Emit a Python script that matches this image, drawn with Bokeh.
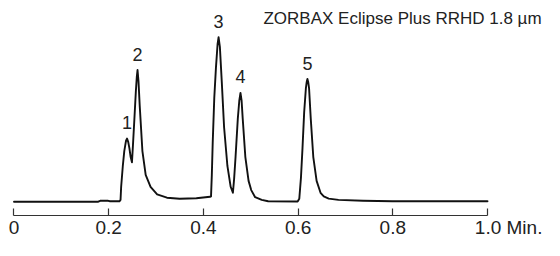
from bokeh.plotting import figure
from bokeh.models import Range1d, FixedTicker, Label, ColumnDataSource
from bokeh.core.properties import value
from bokeh.embed import file_html
from bokeh.resources import INLINE

# ---- data (time in min, signal in arbitrary units) ----
trace_time = [0.000, 0.178, 0.182, 0.199, 0.203, 0.2226, 0.2250, 0.2263, 0.2298, 0.2329,
              0.2366, 0.2387, 0.2412, 0.2437, 0.2464, 0.2491, 0.2511, 0.2540, 0.2573, 0.2594,
              0.2609, 0.2629, 0.2656, 0.2712, 0.2781, 0.2884, 0.3023, 0.3230, 0.3499, 0.3851,
              0.4141, 0.4161, 0.4178, 0.4197, 0.4230, 0.4265, 0.4300, 0.4321, 0.4348, 0.4389,
              0.4437, 0.4507, 0.4576, 0.4623, 0.4648, 0.4679, 0.4727, 0.4758, 0.4783, 0.4807,
              0.4830, 0.4886, 0.4954, 0.5010, 0.5093, 0.5232, 0.5368, 0.5990, 0.6025, 0.6060,
              0.6093, 0.6128, 0.6164, 0.6182, 0.6197, 0.6213, 0.6232, 0.6267, 0.6321, 0.6391,
              0.6474, 0.6542, 0.6646, 0.6853, 0.7371, 0.7992, 1.000]
trace_signal = [0.0, 0.0, 1.0, 1.0, 0.5, 0.5, 2.0, 16.7, 40.0, 56.7,
                68.3, 70.7, 67.0, 60.0, 50.0, 44.0, 62.0, 90.0, 123.0, 140.0,
                147.3, 135.0, 106.7, 56.7, 30.0, 16.7, 8.3, 4.5, 3.3, 3.8,
                5.5, 6.0, 30.0, 66.7, 116.7, 150.0, 176.7, 184.0, 173.3, 133.3,
                83.3, 40.0, 16.7, 10.0, 25.0, 50.0, 93.3, 113.0, 121.7, 113.0,
                93.3, 50.0, 23.3, 13.0, 5.0, 2.0, 0.5, 0.3, 3.3, 26.7,
                60.0, 100.0, 126.7, 134.0, 137.3, 134.0, 126.7, 93.3, 50.0, 23.3,
                10.0, 6.0, 3.5, 2.0, 1.0, 0.5, 0.5]

peak_names = ["1", "2", "3", "4", "5"]
peak_times = [0.2387, 0.2609, 0.4321, 0.4783, 0.6197]
peak_heights = [70.7, 147.3, 184.0, 121.7, 137.3]

tick_values = [0, 0.2, 0.4, 0.6, 0.8, 1.0]
tick_labels = ["0", "0.2", "0.4", "0.6", "0.8", "1.0"]
axis_unit = "Min."
column_text = "ZORBAX Eclipse Plus RRHD 1.8 \u00b5m"

FONT = "Liberation Sans"
TEXT_COLOR = "#222222"

# the last tick label carries the unit; figure spaces on its left keep "1.0" centred on the tick
last_label = "\u2007" * 4 + tick_labels[-1] + " " + axis_unit
label_map = {t: lab for t, lab in zip(tick_values, tick_labels)}
label_map[tick_values[-1]] = last_label

p = figure(width=544, height=240, output_backend="svg", toolbar_location=None,
           title=None,
           x_range=Range1d(-0.02851, 1.12038), y_range=Range1d(-15.43, 225.14),
           min_border=0, min_border_left=0, min_border_right=0, min_border_top=0,
           min_border_bottom=0,
           background_fill_color="white", border_fill_color="white")
p.outline_line_color = None
p.xgrid.visible = False
p.ygrid.visible = False
p.yaxis.visible = False

ax = p.xaxis[0]
ax.ticker = FixedTicker(ticks=tick_values, minor_ticks=[])
ax.major_label_overrides = label_map
ax.bounds = (tick_values[0], tick_values[-1])
ax.axis_line_color = "#333333"
ax.axis_line_width = 1.2
ax.major_tick_line_color = "#333333"
ax.major_tick_line_width = 1.2
ax.major_tick_in = 7
ax.major_tick_out = 0
ax.minor_tick_line_color = None
ax.major_label_standoff = 1
ax.major_label_text_font = FONT
ax.major_label_text_font_size = "19px"
ax.major_label_text_color = TEXT_COLOR

p.line(trace_time, trace_signal, line_color="#111111", line_width=1.9,
       line_join="round", line_cap="round")

src = ColumnDataSource(dict(t=peak_times, h=peak_heights, name=peak_names))
p.text(x="t", y="h", text="name", source=src, text_align="center",
       text_baseline="alphabetic", y_offset=-16, text_font=value(FONT),
       text_font_size="18px", text_color=TEXT_COLOR)

p.add_layout(Label(x=0.5269, y=204.5, text=column_text, text_baseline="alphabetic",
                   text_align="left", text_font=FONT, text_font_size="17px",
                   text_color=TEXT_COLOR))

open("out.html", "w").write(file_html(p, INLINE))
